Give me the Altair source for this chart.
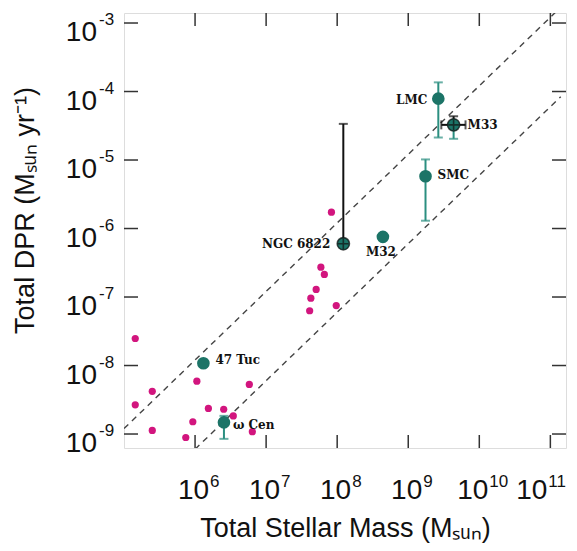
import altair as alt
import pandas as pd

# ---------------- data ----------------
pink_mass = [1.44e5, 1.06e6, 2.5e5, 5.8e6, 1.44e5, 1.54e6, 2.53e6, 3.45e6, 2.5e5,
             9.3e5, 7.4e5, 6.4e6, 8.3e7, 5.9e7, 6.6e7, 5.06e7, 4.26e7, 4.1e7, 9.7e7]
pink_dpr = [2.48e-8, 5.9e-9, 4.2e-9, 5.3e-9, 2.67e-9, 2.36e-9, 2.3e-9, 1.84e-9, 1.13e-9,
            1.51e-9, 8.9e-10, 1.08e-9, 1.73e-6, 2.73e-7, 2.14e-7, 1.29e-7, 9.6e-8, 6.3e-8, 7.5e-8]

names = ["47 Tuc", "ω Cen", "NGC 6822", "M32", "LMC", "M33", "SMC"]
mass = [1.31e6, 2.55e6, 1.22e8, 4.4e8, 2.65e9, 4.35e9, 1.75e9]
dpr = [1.08e-8, 1.48e-9, 6.0e-7, 7.55e-7, 7.87e-5, 3.26e-5, 5.8e-6]

# vertical error bars (segments)
err_mass = [2.55e6, 1.22e8, 2.65e9, 4.35e9, 4.35e9, 1.75e9]
err_lo = [8.5e-10, 6.0e-7, 2.13e-5, 2.04e-5, 3.26e-5, 1.3e-6]
err_hi = [1.84e-9, 3.37e-5, 1.36e-4, 3.26e-5, 4.35e-5, 1.02e-5]
err_kind = ["teal", "black", "teal", "teal", "black", "teal"]

# horizontal error bar of M33
m33_mass_lo = [2.92e9]
m33_mass_hi = [6.4e9]
m33_dpr = [3.26e-5]

# dashed reference lines (end points)
line_mass = [1e5, 1.4e11]
upper_dpr = [1.2e-9, 1.7e-3]
lower_mass = [1e6, 1.4e11]
lower_dpr = [6.0e-10, 8.4e-5]

x_tick_values = [1e6, 1e7, 1e8, 1e9, 1e10, 1e11]
x_tick_exps = ["6", "7", "8", "9", "10", "11"]
y_tick_values = [1e-9, 1e-8, 1e-7, 1e-6, 1e-5, 1e-4, 1e-3]
y_tick_exps = ["-9", "-8", "-7", "-6", "-5", "-4", "-3"]
tick_base = "10"

x_title = "Total Stellar Mass (Mₛᵤₙ)"
y_title = "Total DPR (Mₛᵤₙ yr⁻¹)"

# ---------------- styling ----------------
W, H = 442, 435
TEAL = "#1c7467"
TEAL_ERR = "#2b8f80"
PINK = "#d2157e"
FRAME = "#333333"
TXT = "#111111"
LABEL_FONT = "Liberation Sans"
ANNOT_FONT = "DejaVu Serif"

x_scale = alt.Scale(type="log", domain=[1e5, 1.66e11], nice=False)
y_scale = alt.Scale(type="log", domain=[6.25e-10, 1.4e-3], nice=False)

x_axis = alt.Axis(ticks=False, domain=False, grid=False, labels=False, title=x_title,
                  titleFont=LABEL_FONT, titleFontSize=27, titleFontWeight="normal",
                  titleColor=TXT, titleBaseline="alphabetic", titleY=88)
y_axis = alt.Axis(ticks=False, domain=False, grid=False, labels=False, title=y_title,
                  titleFont=LABEL_FONT, titleFontSize=27, titleFontWeight="normal",
                  titleColor=TXT, titleBaseline="alphabetic", titleX=-91, titleY=197,
                  titleAngle=270)

pink_df = pd.DataFrame({"mass": pink_mass, "dpr": pink_dpr})
gal_df = pd.DataFrame({"name": names, "mass": mass, "dpr": dpr})
err_df = pd.DataFrame({"mass": err_mass, "lo": err_lo, "hi": err_hi, "kind": err_kind})
m33x_df = pd.DataFrame({"lo": m33_mass_lo, "hi": m33_mass_hi, "dpr": m33_dpr})
upper_df = pd.DataFrame({"mass": line_mass, "dpr": upper_dpr})
lower_df = pd.DataFrame({"mass": lower_mass, "dpr": lower_dpr})
xt_df = pd.DataFrame({"v": x_tick_values, "base": tick_base, "exp": x_tick_exps})
yt_df = pd.DataFrame({"v": y_tick_values, "base": tick_base, "exp": y_tick_exps})

X = alt.X("mass:Q", scale=x_scale, axis=x_axis)
Y = alt.Y("dpr:Q", scale=y_scale, axis=y_axis)
XV = alt.X("v:Q", scale=x_scale)
YV = alt.Y("v:Q", scale=y_scale)

# inward ticks on all four sides
tick_style = dict(color=FRAME, strokeWidth=1.5)
xt_bottom = alt.Chart(xt_df).mark_rule(**tick_style).encode(x=XV, y=alt.value(H), y2=alt.value(H - 13))
xt_top = alt.Chart(xt_df).mark_rule(**tick_style).encode(x=XV, y=alt.value(0), y2=alt.value(13))
yt_left = alt.Chart(yt_df).mark_rule(**tick_style).encode(y=YV, x=alt.value(0), x2=alt.value(14))
yt_right = alt.Chart(yt_df).mark_rule(**tick_style).encode(y=YV, x=alt.value(W), x2=alt.value(W - 14))

# tick labels: "10" with a raised, smaller exponent
lab = dict(font=LABEL_FONT, color=TXT, baseline="alphabetic")
x_groups = [
    (alt.Chart(xt_df).transform_filter("length(datum.exp) == 1"), 14),
    (alt.Chart(xt_df).transform_filter("datum.exp == '10'"), 9),
    (alt.Chart(xt_df).transform_filter("datum.exp == '11'"), -3),
]
x_labels = []
for sub, k in x_groups:
    x_labels.append(sub.mark_text(align="right", fontSize=28, dx=k, **lab).encode(
        x=XV, y=alt.value(H + 51), text="base:N"))
    x_labels.append(sub.mark_text(align="left", fontSize=17, dx=k + 1, **lab).encode(
        x=XV, y=alt.value(H + 39), text="exp:N"))
y_base = alt.Chart(yt_df).mark_text(align="right", fontSize=28, dy=18, **lab).encode(
    y=YV, x=alt.value(-27), text="base:N")
y_exp = alt.Chart(yt_df).mark_text(align="left", fontSize=17, dy=2, **lab).encode(
    y=YV, x=alt.value(-25), text="exp:N")

dash = dict(color="#444444", strokeWidth=1.4, strokeDash=[6, 5], clip=True)
upper = alt.Chart(upper_df).mark_line(**dash).encode(x=X, y=Y)
lower = alt.Chart(lower_df).mark_line(**dash).encode(x=X, y=Y)

pink = alt.Chart(pink_df).mark_circle(size=52, color=PINK, opacity=1).encode(x=X, y=Y)

err_color = alt.Color("kind:N", scale=alt.Scale(domain=["teal", "black"], range=[TEAL_ERR, TXT]),
                      legend=None)
err_bars = alt.Chart(err_df).mark_rule(strokeWidth=2).encode(
    x=X, y=alt.Y("lo:Q", scale=y_scale), y2="hi:Q", color=err_color)
cap_lo = alt.Chart(err_df).mark_tick(orient="horizontal", size=9, thickness=2).encode(
    x=X, y=alt.Y("lo:Q", scale=y_scale), color=err_color)
cap_hi = alt.Chart(err_df).mark_tick(orient="horizontal", size=9, thickness=2).encode(
    x=X, y=alt.Y("hi:Q", scale=y_scale), color=err_color)

m33x = alt.Chart(m33x_df).mark_rule(strokeWidth=2, color=TXT).encode(
    x=alt.X("lo:Q", scale=x_scale), x2="hi:Q", y=Y)
m33x_cap_lo = alt.Chart(m33x_df).mark_tick(orient="vertical", size=9, thickness=2, color=TXT).encode(
    x=alt.X("lo:Q", scale=x_scale), y=Y)
m33x_cap_hi = alt.Chart(m33x_df).mark_tick(orient="vertical", size=9, thickness=2, color=TXT).encode(
    x=alt.X("hi:Q", scale=x_scale), y=Y)

teal = alt.Chart(gal_df).mark_circle(size=160, color=TEAL, opacity=1).encode(x=X, y=Y)

special = alt.Chart(gal_df).transform_filter("datum.name == 'NGC 6822' || datum.name == 'M33'")
ring = special.mark_point(shape="circle", size=150, filled=False, color=TXT,
                          strokeWidth=1.6).encode(x=X, y=Y)
cross = special.mark_point(shape="M-1,0L1,0M0,-1L0,1", size=110, filled=False,
                           color=TXT, strokeWidth=1.6).encode(x=X, y=Y)

annot = dict(font=ANNOT_FONT, fontWeight="bold", fontSize=12, color=TXT)


def label(name, **kw):
    return alt.Chart(gal_df).transform_filter(f"datum.name == '{name}'").mark_text(
        **annot, **kw).encode(x=X, y=Y, text="name:N")


labels = [
    label("LMC", align="right", dx=-11, dy=1),
    label("M33", align="left", dx=14, dy=0),
    label("SMC", align="left", dx=12, dy=-1),
    label("NGC 6822", align="right", dx=-13, dy=0),
    label("M32", align="center", dx=-2, dy=15),
    label("47 Tuc", align="left", dx=12, dy=-3),
    label("ω Cen", align="left", dx=9, dy=3),
]

chart = alt.layer(
    xt_bottom, yt_left, xt_top, yt_right, *x_labels, y_base, y_exp,
    upper, lower, pink,
    err_bars, cap_lo, cap_hi, m33x, m33x_cap_lo, m33x_cap_hi,
    teal, ring, cross, *labels
).properties(
    width=W, height=H,
    autosize=alt.AutoSizeParams(type="none"),
    padding={"left": 116, "top": 5, "right": 3, "bottom": 95},
).configure_view(stroke=FRAME, strokeWidth=1.6).configure(background="white")

chart.save("out.html", embed_options={"renderer": "svg", "actions": False})
